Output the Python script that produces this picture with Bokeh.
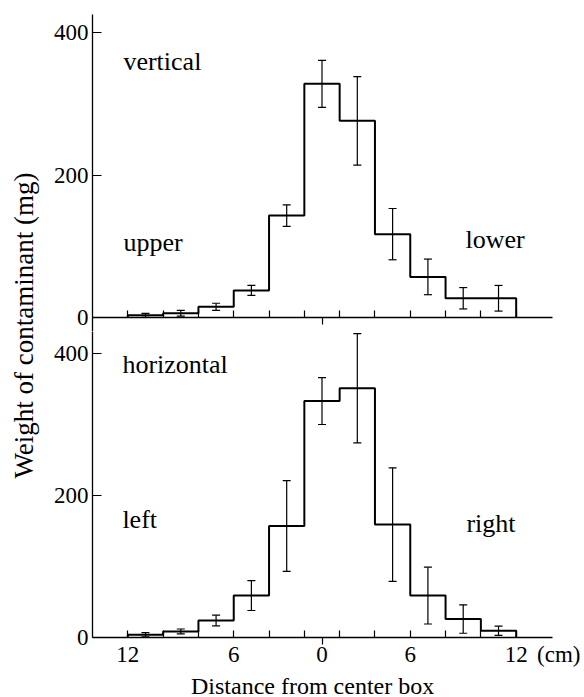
import numpy as np
from math import pi
from bokeh.plotting import figure
from bokeh.layouts import row, column
from bokeh.models import (Range1d, FixedTicker, LinearAxis, Whisker, TeeHead,
                          ColumnDataSource, Label, Title)
from bokeh.core.properties import value
from bokeh.embed import file_html
from bokeh.resources import INLINE

# ---------------- data ----------------
bin_width = 2.4  # cm
bin_centers = [-12.0, -9.6, -7.2, -4.8, -2.4, 0.0, 2.4, 4.8, 7.2, 9.6, 12.0]
vertical_mg = [3, 6, 15, 38, 143, 328, 276, 117, 57, 27, 27]
vertical_err = [2.8, 4, 5, 7, 15, 33, 62, 36, 25, 15, 18]
horizontal_mg = [4, 8.5, 24, 59, 157, 333, 351, 159, 59, 26, 9.5]
horizontal_err = [3, 3.5, 7.5, 21, 64, 33, 77, 80, 40, 20, 6.5]
x_tick_positions = [-13.2, -6.0, 0.0, 6.0, 13.2, 16.1]
x_tick_labels = ["12", "6", "0", "6", "12", "(cm)"]
y_ticks = [0, 200, 400]
y_title = "Weight of contaminant (mg)"
x_title = "Distance from center box"
top_labels = [("vertical", -13.5, 360), ("upper", -13.5, 105.5), ("lower", 9.75, 109.7)]
bottom_labels = [("horizontal", -13.57, 384.8), ("left", -13.57, 166.5), ("right", 9.82, 160.9)]

FONT = "Liberation Serif"
TXT = "26px"
NUM = "23px"

centers = np.array(bin_centers)
edges = np.concatenate([centers - bin_width / 2, [centers[-1] + bin_width / 2]])

PX_PER_CM = 14.71
ZERO_X = 321.5          # page x of 0 cm
SPINE_X = 92
PAGE_W = 584
LABEL_W = 40
FRAME_W = PAGE_W - SPINE_X
LEFT_B = SPINE_X - LABEL_W
X_RANGE = ((SPINE_X - ZERO_X) / PX_PER_CM, (PAGE_W - ZERO_X) / PX_PER_CM)
AXIS_END = (552 - ZERO_X) / PX_PER_CM


def make_panel(vals, errs, y_start, y_end, fh, labels, top_border):
    p = figure(frame_width=FRAME_W, frame_height=fh,
               x_range=Range1d(*X_RANGE), y_range=Range1d(y_start, y_end),
               output_backend="svg", toolbar_location=None,
               min_border_left=LEFT_B, min_border_right=0,
               min_border_top=top_border, min_border_bottom=0)
    p.grid.visible = False
    p.outline_line_color = None
    p.background_fill_color = "white"
    p.border_fill_color = "white"

    # histogram outline
    vals = list(vals)
    xs = [edges[0]] + list(edges)
    ys = [0] + vals + [0]
    p.step(xs, ys, mode="after", line_color="black", line_width=2)

    # error bars
    v = np.array(vals, dtype=float)
    e = np.array(errs, dtype=float)
    src = ColumnDataSource(dict(x=centers, upper=v + e, lower=np.clip(v - e, 0, None)))
    w = Whisker(source=src, base="x", upper="upper", lower="lower", dimension="height",
                line_color="black", line_width=1.2,
                upper_head=TeeHead(size=8, line_color="black", line_width=1.2),
                lower_head=TeeHead(size=8, line_color="black", line_width=1.2))
    p.add_layout(w)

    # x axis (bin-edge ticks pointing up, tick at 0 pointing down)
    xa = p.xaxis[0]
    xa.ticker = FixedTicker(ticks=list(edges), minor_ticks=[0.0])
    xa.bounds = (X_RANGE[0], AXIS_END)
    xa.major_tick_in = 7
    xa.major_tick_out = 0
    xa.minor_tick_in = 0
    xa.minor_tick_out = 7
    xa.major_tick_line_width = 1.2
    xa.minor_tick_line_width = 1.2
    xa.axis_line_width = 1.5
    xa.major_label_text_color = None
    xa.major_label_text_font_size = "1px"
    xa.major_label_standoff = 0

    # y axis
    ya = p.yaxis[0]
    ya.ticker = FixedTicker(ticks=y_ticks)
    ya.major_tick_in = 9
    ya.major_tick_out = 0
    ya.minor_tick_line_color = None
    ya.axis_line_width = 1.3
    ya.major_tick_line_width = 1.2
    ya.major_label_text_font = FONT
    ya.major_label_text_font_size = NUM
    ya.major_label_text_color = "black"
    ya.major_label_standoff = 4

    for txt, x, y in labels:
        p.add_layout(Label(x=x, y=y, text=txt, text_font=FONT, text_font_size=TXT,
                           text_color="black", text_align="left",
                           text_baseline="alphabetic"))
    return p


TOP_FH = 317
BOT_FH = 306
top = make_panel(vertical_mg, vertical_err, -14 / 0.7125, 303 / 0.7125, TOP_FH, top_labels, 14)
top.xaxis[0].fixed_location = 0

bot = make_panel(horizontal_mg, horizontal_err, 0, BOT_FH / 0.71, BOT_FH, bottom_labels, 0)
ax2 = LinearAxis(ticker=FixedTicker(ticks=x_tick_positions),
                 major_label_overrides=dict(zip(x_tick_positions, x_tick_labels)),
                 axis_line_color=None, major_tick_line_color=None,
                 minor_tick_line_color=None, major_tick_in=0, major_tick_out=0,
                 major_label_standoff=-3,
                 major_label_text_font=FONT, major_label_text_font_size=NUM,
                 major_label_text_color="black")
bot.add_layout(ax2, "below")
TITLE_W = 243
bot.add_layout(Title(text=x_title, text_font=FONT, text_font_size="24px",
                     text_font_style="normal", text_color="black",
                     align="left", offset=312 - TITLE_W / 2 - SPINE_X, standoff=2), "below")

TOTAL_H = 697
lab = figure(width=LABEL_W, height=TOTAL_H, x_range=Range1d(0, LABEL_W),
             y_range=Range1d(0, TOTAL_H), output_backend="svg", toolbar_location=None,
             x_axis_location=None, y_axis_location=None, min_border=0)
lab.grid.visible = False
lab.outline_line_color = None
lab.text(x=[23], y=[TOTAL_H - 325], text=[y_title], angle=pi / 2,
         text_font=value(FONT), text_font_size="27px", text_color="black",
         text_align="center", text_baseline="middle")

layout = row(lab, column(top, bot))
open("out.html", "w").write(file_html(layout, INLINE))
